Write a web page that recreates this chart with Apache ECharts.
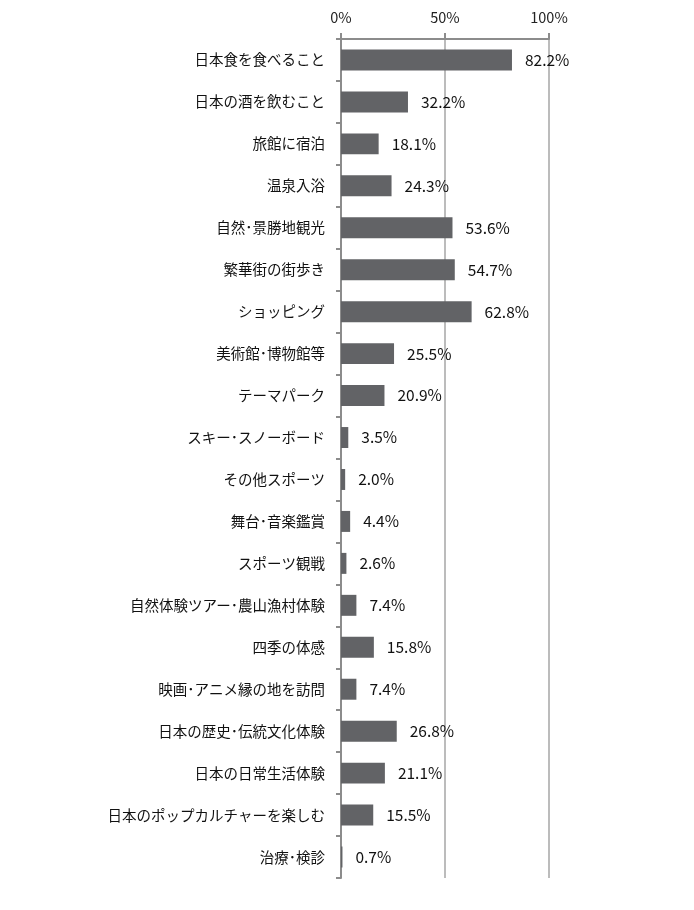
<!DOCTYPE html>
<html><head><meta charset="utf-8">
<script src="https://cdn.jsdelivr.net/npm/echarts@6/dist/echarts.min.js"></script>
<style>html,body{margin:0;padding:0;background:#fff}#c{width:694px;height:910px}</style>
</head><body><div id="c"></div>
<script>
const categories = ["日本食を食べること","日本の酒を飲むこと","旅館に宿泊","温泉入浴","自然・景勝地観光","繁華街の街歩き","ショッピング","美術館・博物館等","テーマパーク","スキー・スノーボード","その他スポーツ","舞台・音楽鑑賞","スポーツ観戦","自然体験ツアー・農山漁村体験","四季の体感","映画・アニメ縁の地を訪問","日本の歴史・伝統文化体験","日本の日常生活体験","日本のポップカルチャーを楽しむ","治療・検診"];
const values = [82.2,32.2,18.1,24.3,53.6,54.7,62.8,25.5,20.9,3.5,2.0,4.4,2.6,7.4,15.8,7.4,26.8,21.1,15.5,0.7];
const xTicks = [0,50,100];
const font = '"Noto Sans CJK JP","Noto Sans",sans-serif';
const chart = echarts.init(document.getElementById('c'));
chart.setOption({
  animation:false,
  grid:{left:341,top:39,right:145,bottom:32,containLabel:false},
  xAxis:{type:'value',position:'top',min:0,max:100,interval:50,
    axisLine:{show:true,lineStyle:{color:'#8c8c8c',width:2}},
    axisTick:{show:true,length:6,lineStyle:{color:'#8c8c8c',width:2}},
    splitLine:{show:true,lineStyle:{color:'#a6a6a6',width:1.5}},
    axisLabel:{formatter:v=>xTicks.includes(v)?v+'%':'',margin:14,fontSize:14.5,color:'#222',fontFamily:font}},
  yAxis:{type:'category',inverse:true,data:categories,
    axisLine:{show:true,lineStyle:{color:'#8c8c8c',width:2}},
    axisTick:{show:true,length:5,lineStyle:{color:'#8c8c8c',width:2}},
    axisLabel:{margin:16,fontSize:14.5,color:'#111',fontFamily:font,
      formatter:s=>s.replace(/・/g,'･')}},
  series:[{type:'bar',data:values,barCategoryGap:'50%',
    itemStyle:{color:'#626366'},
    label:{show:true,position:'right',distance:13,formatter:p=>p.value.toFixed(1)+'%',fontSize:15.5,color:'#111',fontFamily:font}}]
});
</script></body></html>
